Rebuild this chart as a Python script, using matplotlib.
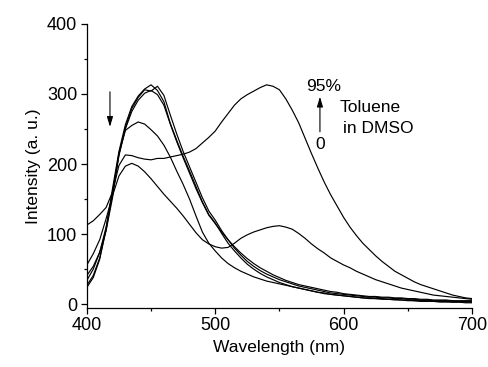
import numpy as np
import matplotlib
matplotlib.use("Agg")
import matplotlib.pyplot as plt
from matplotlib.ticker import MultipleLocator

plt.rcParams['font.family'] = ['Liberation Sans', 'DejaVu Sans']

wavelength = list(range(400, 705, 5))

curve_a = [24, 38, 64, 108, 165, 218, 256, 282, 297, 307, 313, 305, 289, 258, 234, 211, 190, 168, 146, 128,
           116, 101, 87, 76, 66, 57, 50, 44, 39, 35, 31, 28, 25, 23, 21, 19, 17, 15, 14, 13,
           12, 11, 10, 9, 8, 8, 7, 7, 6, 6, 5, 5, 4, 4, 4, 3, 3, 3, 3, 2, 2]
curve_b = [27, 41, 66, 106, 160, 214, 252, 279, 295, 306, 304, 311, 298, 270, 243, 218, 196, 174, 152, 133,
           120, 105, 92, 80, 70, 61, 54, 48, 43, 39, 35, 32, 29, 26, 24, 22, 20, 18, 16, 15,
           14, 13, 12, 11, 10, 10, 9, 9, 8, 8, 7, 7, 6, 6, 5, 5, 5, 4, 4, 4, 4]
curve_d = [34, 50, 74, 110, 158, 212, 250, 275, 291, 301, 305, 299, 284, 257, 232, 209, 187, 165, 145, 127,
           115, 103, 92, 82, 73, 65, 58, 52, 47, 42, 38, 34, 31, 28, 26, 24, 22, 20, 18, 17,
           15, 14, 13, 12, 11, 11, 10, 10, 9, 9, 8, 8, 7, 7, 6, 6, 6, 5, 5, 5, 5]
curve_c = [41, 54, 74, 105, 152, 215, 248, 255, 260, 257, 249, 240, 227, 210, 190, 171, 150, 126, 103, 87,
           76, 66, 58, 52, 47, 43, 39, 36, 33, 31, 29, 27, 25, 23, 21, 19, 17, 16, 14, 13,
           12, 11, 10, 9, 9, 8, 8, 7, 7, 6, 6, 5, 5, 5, 4, 4, 4, 3, 3, 3, 3]
curve_e = [56, 72, 92, 122, 155, 183, 197, 201, 197, 189, 179, 168, 157, 147, 137, 126, 114, 102, 92, 86,
           82, 80, 81, 87, 94, 99, 103, 106, 109, 111, 112, 110, 107, 101, 94, 86, 79, 73, 66, 61,
           56, 52, 47, 43, 39, 35, 32, 29, 26, 23, 21, 19, 17, 15, 13, 12, 11, 10, 9, 8, 7]
curve_f = [113, 119, 128, 138, 160, 198, 213, 212, 209, 207, 206, 208, 208, 210, 212, 214, 217, 222, 230, 238,
           247, 260, 272, 284, 293, 299, 304, 309, 313, 311, 306, 293, 277, 259, 237, 215, 194, 174, 156, 140,
           124, 110, 98, 87, 78, 69, 61, 54, 47, 42, 37, 32, 28, 25, 22, 19, 16, 13, 11, 9, 8]

series = [curve_a, curve_b, curve_d, curve_c, curve_e, curve_f]

fig = plt.figure(figsize=(4.88, 3.67), dpi=100)
ax = fig.add_axes([0.178, 0.1616, 0.789, 0.7734])

for s in series:
    ax.plot(wavelength, s, color='black', lw=0.85)

ax.set_xlim(400, 700)
ax.set_ylim(-5, 400)
ax.xaxis.set_major_locator(MultipleLocator(100))
ax.xaxis.set_minor_locator(MultipleLocator(50))
ax.yaxis.set_major_locator(MultipleLocator(100))
ax.yaxis.set_minor_locator(MultipleLocator(50))

for side in ['top', 'right']:
    ax.spines[side].set_visible(False)
for side in ['left', 'bottom']:
    ax.spines[side].set_linewidth(0.9)

ax.tick_params(which='major', direction='out', length=4.5, width=0.9, labelsize=13, pad=2.5)
ax.tick_params(which='minor', direction='out', length=2.5, width=0.9)

ax.set_xlabel('Wavelength (nm)', fontsize=12.5, labelpad=4)
ax.set_ylabel('Intensity (a. u.)', fontsize=12.5, labelpad=4)

arrow = dict(arrowstyle='-|>,head_length=0.6,head_width=0.18', lw=0.8, color='black',
             shrinkA=0, shrinkB=0)
ax.annotate('', xy=(418, 253), xytext=(418, 303), arrowprops=arrow)
ax.annotate('', xy=(581.6, 296), xytext=(581.6, 246), arrowprops=arrow)

ax.text(570.7, 311, '95%', fontsize=12.5, ha='left', va='center')
ax.text(581.6, 228, '0', fontsize=12.5, ha='center', va='center')
ax.text(597.2, 281, 'Toluene', fontsize=12.5, ha='left', va='center')
ax.text(599.5, 251, 'in DMSO', fontsize=12.5, ha='left', va='center')

fig.savefig('out.png', dpi=100)
